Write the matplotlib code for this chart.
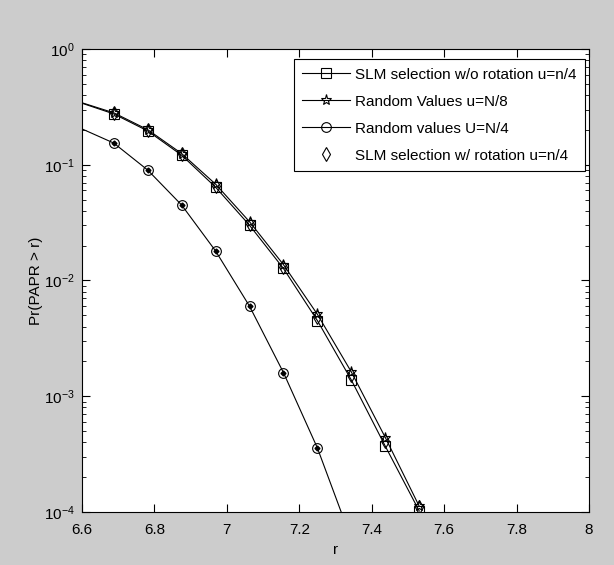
import numpy as np
import matplotlib
matplotlib.use("Agg")
import matplotlib.pyplot as plt
from matplotlib.ticker import LogLocator, NullFormatter

plt.rcParams['font.family'] = ['Liberation Sans', 'DejaVu Sans']
plt.rcParams['mathtext.fontset'] = 'custom'
plt.rcParams['mathtext.rm'] = 'Liberation Sans'

# threshold values r (first one lies just left of the axes)
r = [6.59375, 6.6875, 6.78125, 6.875, 6.96875, 7.0625, 7.15625,
     7.25, 7.34375, 7.4375, 7.53125]

slm_no_rot = [0.345, 0.275, 0.196, 0.121, 0.064, 0.0300, 0.0127,
              0.0045, 0.00138, 3.7e-4, 1.02e-4]
rand_n8 = [0.348, 0.281, 0.201, 0.125, 0.068, 0.0322, 0.0137,
           0.0051, 0.00162, 4.4e-4, 1.12e-4]
rand_n4 = [0.208, 0.154, 0.090, 0.0449, 0.0180, 0.0060, 0.0016,
           3.57e-4, 5.8e-5]
slm_rot = [0.279, 0.199, 0.123, 0.066, 0.031, 0.0132, 0.0048,
           0.00152, 4.1e-4, 1.1e-4]

labels = ['SLM selection w/o rotation u=n/4',
          'Random Values u=N/8',
          'Random values U=N/4',
          'SLM selection w/ rotation u=n/4']

fig = plt.figure(figsize=(6.14, 5.65), dpi=100, facecolor='#cccccc')
ax = fig.add_axes([0.1336, 0.0938, 0.8257, 0.8195])
ax.set_facecolor('white')

lw = 0.8
skip = list(range(1, len(r)))
ax.semilogy(r, slm_no_rot, color='k', lw=lw, marker='s', ms=7,
            mfc='none', mec='k', mew=0.8, markevery=skip, label=labels[0])
ax.semilogy(r, rand_n8, color='k', lw=lw, marker='*', ms=8,
            mfc='none', mec='k', mew=0.8, markevery=skip, label=labels[1])
ax.semilogy(r[:len(rand_n4)], rand_n4, color='k', lw=lw, marker='o', ms=7,
            mfc='none', mec='k', mew=0.8, markevery=skip[:len(rand_n4) - 1],
            label=labels[2])
ax.semilogy(r[1:len(rand_n4)], rand_n4[1:], ls='none', marker='D', ms=2.5,
            color='k', label='_nolegend_')
ax.semilogy(r[1:], slm_rot, ls='none', marker='d', ms=7,
            mfc='none', mec='k', mew=0.8, label=labels[3])

ax.set_xlim(6.6, 8)
ax.set_ylim(1e-4, 1)
ax.set_xticks([6.6, 6.8, 7, 7.2, 7.4, 7.6, 7.8, 8])
ax.set_xticklabels(['6.6', '6.8', '7', '7.2', '7.4', '7.6', '7.8', '8'])
ax.yaxis.set_major_locator(LogLocator(base=10, numticks=10))
ax.yaxis.set_minor_locator(LogLocator(base=10, subs=np.arange(2, 10), numticks=10))
ax.yaxis.set_minor_formatter(NullFormatter())

ax.tick_params(which='both', direction='in', top=True, right=True,
               labelsize=11, color='k')
ax.tick_params(which='major', length=6, width=0.8)
ax.tick_params(which='minor', length=3, width=0.6)
ax.tick_params(axis='x', pad=8)
ax.tick_params(axis='y', pad=5)
for s in ax.spines.values():
    s.set_linewidth(0.8)

ax.set_xlabel('r', fontsize=11, labelpad=4)
ax.set_ylabel('Pr(PAPR > r)', fontsize=11, labelpad=1)

leg = ax.legend(loc='upper right', bbox_to_anchor=(0.992, 0.978),
                fontsize=11, frameon=True, fancybox=False,
                edgecolor='k', framealpha=1, borderaxespad=0,
                handlelength=3.1, handletextpad=0.35, labelspacing=0.85,
                borderpad=0.55)
leg.get_frame().set_linewidth(0.8)

fig.savefig('out.png', dpi=100, facecolor=fig.get_facecolor())
